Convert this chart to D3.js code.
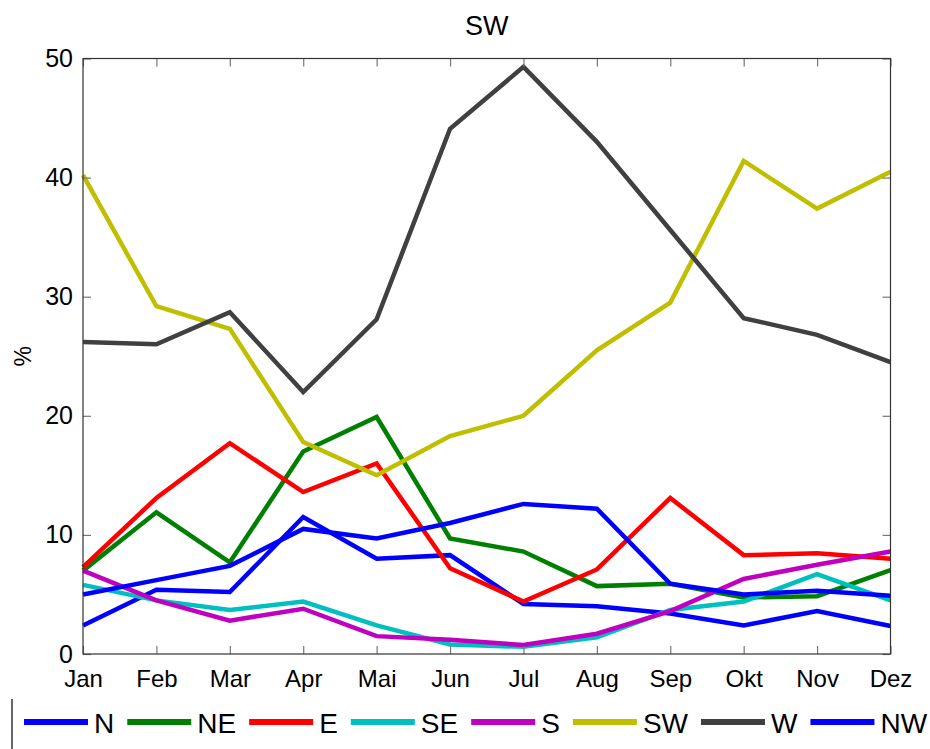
<!DOCTYPE html>
<html>
<head>
<meta charset="utf-8">
<script src="https://cdn.jsdelivr.net/npm/d3@7"></script>
<style>
  body { margin: 0; background: #fff; }
  svg { display: block; font-family: "Liberation Sans", Arial, sans-serif; }
</style>
</head>
<body>
<svg width="930" height="749"></svg>
<script>
// months on the x axis
const months = ["Jan", "Feb", "Mar", "Apr", "Mai", "Jun", "Jul", "Aug", "Sep", "Okt", "Nov", "Dez"];
const yTicks = [0, 10, 20, 30, 40, 50];

// share of each wind direction (%) per month
const N  = [2.4, 5.4, 5.2, 11.5, 8.0, 8.3, 4.2, 4.0, 3.4, 2.4, 3.6, 2.35];
const NE = [7.0, 11.9, 7.7, 17.0, 19.9, 9.7, 8.6, 5.7, 5.9, 4.75, 4.85, 7.05];
const E  = [7.3, 13.1, 17.7, 13.6, 16.0, 7.2, 4.4, 7.1, 13.1, 8.3, 8.45, 8.0];
const SE = [5.8, 4.5, 3.7, 4.4, 2.4, 0.8, 0.6, 1.4, 3.7, 4.4, 6.7, 4.5];
const S  = [7.0, 4.5, 2.8, 3.8, 1.5, 1.2, 0.75, 1.7, 3.6, 6.3, 7.5, 8.6];
const SW = [40.2, 29.2, 27.3, 17.8, 15.0, 18.3, 20.0, 25.5, 29.5, 41.4, 37.4, 40.5];
const W  = [26.2, 26.0, 28.7, 22.0, 28.1, 44.1, 49.3, 43.0, 35.6, 28.2, 26.8, 24.5];
const NW = [5.0, 6.2, 7.4, 10.5, 9.7, 11.0, 12.6, 12.2, 5.9, 5.0, 5.3, 4.9];

const names  = ["N", "NE", "E", "SE", "S", "SW", "W", "NW"];
const values = [N, NE, E, SE, S, SW, W, NW];
const colors = ["#0000ff", "#008000", "#ff0000", "#00bfbf", "#bf00bf", "#bfbf00", "#404040", "#0000ff"];

const series = names.map((name, i) => ({ name: name, color: colors[i], values: values[i] }));

const svg = d3.select("svg");
const x0 = 83, x1 = 890.5, y0 = 58.5, y1 = 654;

const x = d3.scalePoint().domain(months).range([x0, x1]);
const y = d3.scaleLinear().domain([0, 50]).range([y1, y0]);

// title
svg.append("text")
  .attr("x", (x0 + x1) / 2).attr("y", 35)
  .attr("text-anchor", "middle")
  .style("font-size", "27px")
  .text("SW");

// y label
svg.append("text")
  .attr("transform", `translate(31, ${(y0 + y1) / 2}) rotate(-90)`)
  .attr("text-anchor", "middle")
  .style("font-size", "23px")
  .text("%");

// the lines
const line = d3.line().x((d, i) => x(months[i])).y(d => y(d));

svg.append("g").selectAll("path")
  .data(series)
  .join("path")
  .attr("d", d => line(d.values))
  .attr("fill", "none")
  .attr("stroke", d => d.color)
  .attr("stroke-width", 4.5)
  .attr("stroke-linejoin", "miter");

// axes box with inward ticks
const tickLen = 8;
const axisStyle = g => {
  g.select(".domain").remove();
  g.selectAll(".tick line").attr("stroke", "#777").attr("stroke-width", 1.2);
};

svg.append("g")
  .attr("transform", `translate(0, ${y1})`)
  .call(d3.axisBottom(x).tickSize(-tickLen).tickPadding(14))
  .call(axisStyle)
  .call(g => g.selectAll("text").style("font-size", "24px").attr("fill", "#000").attr("dy", "0.71em").attr("y", 16));

svg.append("g")
  .attr("transform", `translate(0, ${y0})`)
  .call(d3.axisTop(x).tickSize(-tickLen).tickFormat(""))
  .call(axisStyle);

svg.append("g")
  .attr("transform", `translate(${x0}, 0)`)
  .call(d3.axisLeft(y).tickValues(yTicks).tickSize(-tickLen).tickPadding(10))
  .call(axisStyle)
  .call(g => g.selectAll("text").style("font-size", "25px").attr("fill", "#000"));

svg.append("g")
  .attr("transform", `translate(${x1}, 0)`)
  .call(d3.axisRight(y).tickValues(yTicks).tickSize(-tickLen).tickFormat(""))
  .call(axisStyle);

svg.append("rect")
  .attr("x", x0).attr("y", y0)
  .attr("width", x1 - x0).attr("height", y1 - y0)
  .attr("fill", "none")
  .attr("stroke", "#333")
  .attr("stroke-width", 1.2);

// legend, runs off the bottom/right of the figure
const legY = 722;
svg.append("line")
  .attr("x1", 12).attr("x2", 12).attr("y1", 699).attr("y2", 749)
  .attr("stroke", "#000").attr("stroke-width", 1.2);

let lx = 24;
series.forEach(s => {
  svg.append("line")
    .attr("x1", lx).attr("x2", lx + 64)
    .attr("y1", legY).attr("y2", legY)
    .attr("stroke", s.color).attr("stroke-width", 6);
  const t = svg.append("text")
    .attr("x", lx + 70).attr("y", legY + 11)
    .style("font-size", "28px")
    .text(s.name);
  lx += 70 + t.node().getComputedTextLength() + 13;
});
</script>
</body>
</html>
